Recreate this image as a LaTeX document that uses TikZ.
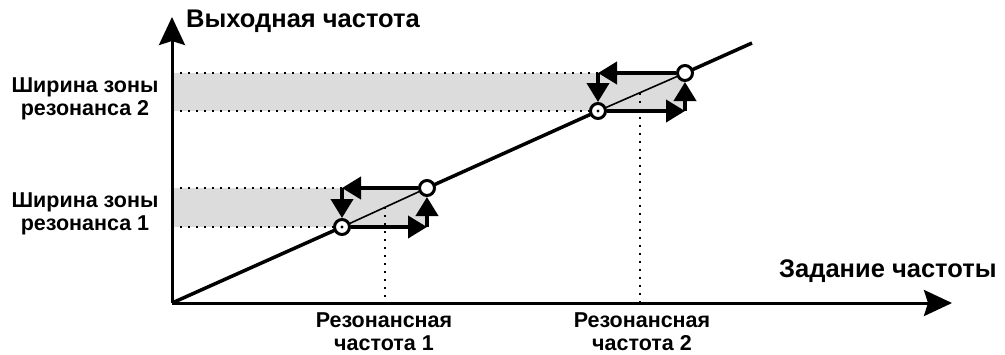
\documentclass[tikz,border=0pt]{standalone}
\usepackage{fontspec}
\setmainfont{Liberation Sans}
\usetikzlibrary{arrows.meta}
\definecolor{zone}{RGB}{220,220,220}
\begin{document}
\begin{tikzpicture}[x=1pt,y=-1pt,
  axisline/.style={line width=3pt,-{Stealth[length=28pt,width=26pt,inset=4pt]}},
  diag/.style={line width=3.5pt},
  thin/.style={line width=1.6pt},
  arr/.style={line width=4pt,-{Triangle[length=19pt,width=22pt]}},
  dots/.style={line width=2pt,dash pattern=on 2pt off 6pt},
  pt/.style={circle,draw,fill=white,line width=3pt,minimum size=15pt,inner sep=0pt},
  lbl/.style={font=\fontsize{21.5pt}{23pt}\selectfont\bfseries,align=center,inner sep=0pt},
  ttl/.style={font=\fontsize{25.5pt}{28pt}\selectfont\bfseries,inner sep=0pt}]
\useasboundingbox (0,0) rectangle (1005,354);
% key points
\coordinate (O) at (172,303);
\coordinate (Ytip) at (172,17);
\coordinate (Xtip) at (952,303);
\coordinate (Dend) at (752,43);
\coordinate (c1a) at (342,227);
\coordinate (c1b) at (427,188);
\coordinate (c2a) at (598,111);
\coordinate (c2b) at (685,73);
\coordinate (t1) at (c1a |- c1b);
\coordinate (b1) at (c1b |- c1a);
\coordinate (t2) at (c2a |- c2b);
\coordinate (b2) at (c2b |- c2a);
\coordinate (y1a) at (O |- c1a);
\coordinate (y1b) at (O |- c1b);
\coordinate (y2a) at (O |- c2a);
\coordinate (y2b) at (O |- c2b);
\coordinate (v1top) at (385,207);
\coordinate (v1bot) at (O -| v1top);
\coordinate (v2top) at (640,93);
\coordinate (v2bot) at (O -| v2top);
% zones
\fill[zone] (y1b) rectangle (b1);
\fill[zone] (y2b) rectangle (b2);
% dotted guides
\draw[dots] (y1b) -- (t1);
\draw[dots] (y1a) -- (c1a);
\draw[dots] (y2b) -- (t2);
\draw[dots] (y2a) -- (c2a);
\draw[dots] (v1top) -- (v1bot);
\draw[dots] (v2top) -- (v2bot);
% axes
\draw[axisline] (O) -- (Ytip);
\draw[axisline] (O) -- (Xtip);
% characteristic
\draw[diag] (O) -- (c1a);
\draw[thin] (c1a) -- (c1b);
\draw[diag] (c1b) -- (c2a);
\draw[thin] (c2a) -- (c2b);
\draw[diag] (c2b) -- (Dend);
% circles
\node[pt] (p1a) at (c1a) {};
\node[pt] (p1b) at (c1b) {};
\node[pt] (p2a) at (c2a) {};
\node[pt] (p2b) at (c2b) {};
\fill (c1a) circle (1.6pt);
\fill (c2a) circle (1.6pt);
% hysteresis arrows
\draw[arr] (p1b) -- (t1);
\draw[arr] (t1) -- (p1a);
\draw[arr] (p1a) -- (b1);
\draw[arr] (b1) -- (p1b);
\draw[arr] (p2b) -- (t2);
\draw[arr] (t2) -- (p2a);
\draw[arr] (p2a) -- (b2);
\draw[arr] (b2) -- (p2b);
% texts
\node[ttl,anchor=base west] (ty) at (186,27) {Выходная частота};
\node[ttl,anchor=base west] (tx) at (779,277) {Задание частоты};
\node[lbl,anchor=base] (w2) at (85,115) {Ширина зоны\\резонанса 2};
\node[lbl,anchor=base] (w1) at (85,230) {Ширина зоны\\резонанса 1};
\node[lbl,anchor=base] (r1) at (384,350) {Резонансная\\частота 1};
\node[lbl,anchor=base] (r2) at (642,350) {Резонансная\\частота 2};
\end{tikzpicture}
\end{document}
